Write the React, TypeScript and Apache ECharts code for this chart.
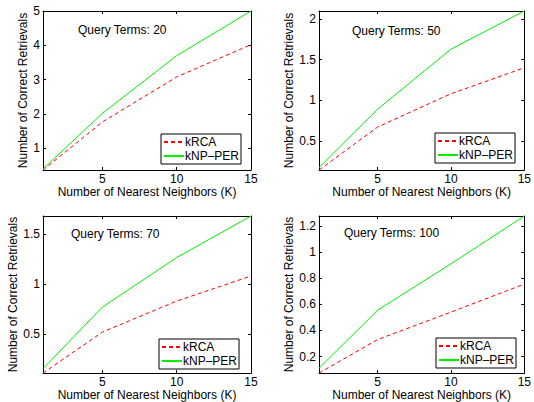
import React, { useEffect, useRef } from "react";
import * as echarts from "echarts";

const K = [1, 5, 10, 15];
const queryTerms = [20, 50, 70, 100];
const kRCA20 = [0.37, 1.77, 3.08, 4.02];
const kNP20 = [0.4, 2.02, 3.7, 5.0];
const kRCA50 = [0.14, 0.67, 1.08, 1.4];
const kNP50 = [0.17, 0.89, 1.63, 2.1];
const kRCA70 = [0.11, 0.52, 0.83, 1.08];
const kNP70 = [0.155, 0.77, 1.265, 1.68];
const kRCA100 = [0.073, 0.33, 0.54, 0.755];
const kNP100 = [0.11, 0.555, 0.91, 1.276];
const yMin = [0.37, 0.14, 0.11, 0.073];
const yMax = [5.0, 2.1, 1.68, 1.276];
const yTicks = [
  [1, 2, 3, 4, 5],
  [0.5, 1, 1.5, 2],
  [0.5, 1, 1.5],
  [0.2, 0.4, 0.6, 0.8, 1, 1.2],
];
const xTicks = [5, 10, 15];
const seriesNames = ["kRCA", "kNP\u2013PER"];

const kRCAAll = [kRCA20, kRCA50, kRCA70, kRCA100];
const kNPAll = [kNP20, kNP50, kNP70, kNP100];

const grids = [
  { left: 43, top: 11, width: 208, height: 159 },
  { left: 319, top: 11, width: 207, height: 159 },
  { left: 43, top: 216, width: 208, height: 158 },
  { left: 319, top: 216, width: 207, height: 158 },
];
const titlePos = [
  { left: 78, top: 24 },
  { left: 352, top: 25 },
  { left: 71, top: 228 },
  { left: 344, top: 227 },
];
const legendPos = [
  { left: 161, top: 134 },
  { left: 435, top: 133 },
  { left: 159, top: 339 },
  { left: 436, top: 338 },
];

const FONT = "Liberation Sans, Arial, sans-serif";
const FS = 12;

export default function App() {
  const ref = useRef<HTMLDivElement>(null);
  useEffect(() => {
    if (!ref.current) return;
    const chart = echarts.init(ref.current, undefined, { renderer: "svg" });
    const xAxis: any[] = [];
    const yAxis: any[] = [];
    const series: any[] = [];
    const title: any[] = [];
    const legend: any[] = [];
    grids.forEach((g, i) => {
      const axisLine = { show: true, lineStyle: { color: "#000", width: 1 } };
      const tickStyle = { inside: true, length: 3, lineStyle: { color: "#000" } };
      xAxis.push({
        type: "value",
        gridIndex: i,
        position: "bottom",
        min: 1,
        max: 15,
        name: "Number of Nearest Neighbors (K)",
        nameLocation: "middle",
        nameGap: 15,
        nameTextStyle: { fontSize: FS, color: "#000", fontFamily: FONT },
        axisLine,
        axisTick: { ...tickStyle, customValues: xTicks },
        axisLabel: { customValues: xTicks, fontSize: FS, color: "#000", margin: 3, fontFamily: FONT },
        splitLine: { show: false },
      });
      xAxis.push({
        type: "value",
        gridIndex: i,
        position: "top",
        min: 1,
        max: 15,
        axisLine,
        axisTick: { ...tickStyle, customValues: xTicks },
        axisLabel: { show: false },
        splitLine: { show: false },
      });
      yAxis.push({
        type: "value",
        gridIndex: i,
        position: "left",
        min: yMin[i],
        max: yMax[i],
        name: "Number of Correct Retrievals",
        nameLocation: "middle",
        nameGap: 14,
        nameTextStyle: { fontSize: FS, color: "#000", fontFamily: FONT },
        axisLine,
        axisTick: { ...tickStyle, customValues: yTicks[i] },
        axisLabel: { customValues: yTicks[i], fontSize: FS, color: "#000", margin: 3, fontFamily: FONT },
        splitLine: { show: false },
      });
      yAxis.push({
        type: "value",
        gridIndex: i,
        position: "right",
        min: yMin[i],
        max: yMax[i],
        axisLine,
        axisTick: { ...tickStyle, customValues: yTicks[i] },
        axisLabel: { show: false },
        splitLine: { show: false },
      });
      series.push({
        type: "line",
        name: seriesNames[0],
        xAxisIndex: i * 2,
        yAxisIndex: i * 2,
        data: K.map((k, j) => [k, kRCAAll[i][j]]),
        symbol: "none",
        lineStyle: { color: "#ff0000", width: 1, type: [4, 3] },
        itemStyle: { color: "#ff0000" },
      });
      series.push({
        type: "line",
        name: seriesNames[1],
        xAxisIndex: i * 2,
        yAxisIndex: i * 2,
        data: K.map((k, j) => [k, kNPAll[i][j]]),
        symbol: "none",
        lineStyle: { color: "#00f000", width: 1 },
        itemStyle: { color: "#00f000" },
      });
      title.push({
        text: "Query Terms: " + queryTerms[i],
        left: titlePos[i].left,
        top: titlePos[i].top,
        padding: 0,
        textStyle: { fontSize: FS, fontWeight: "normal", color: "#000", fontFamily: FONT },
      });
      legend.push({
        data: seriesNames,
        orient: "vertical",
        left: legendPos[i].left,
        top: legendPos[i].top,
        padding: [2, 2, 2, 2],
        itemGap: 2,
        itemWidth: 20,
        itemHeight: 14,
        backgroundColor: "#fff",
        borderColor: "#000",
        borderWidth: 1,
        borderRadius: 0,
        selectedMode: false,
        itemStyle: { opacity: 0 },
        textStyle: { fontSize: FS, color: "#000", fontFamily: FONT, padding: [0, 0, 0, -4] },
      });
    });
    chart.setOption({
      animation: false,
      backgroundColor: "#fff",
      textStyle: { fontFamily: FONT },
      grid: grids,
      xAxis,
      yAxis,
      series,
      title,
      legend,
    });
    return () => chart.dispose();
  }, []);
  return (
    <div
      ref={ref}
      style={{ position: "fixed", left: 0, top: 0, width: 534, height: 402 }}
    />
  );
}
